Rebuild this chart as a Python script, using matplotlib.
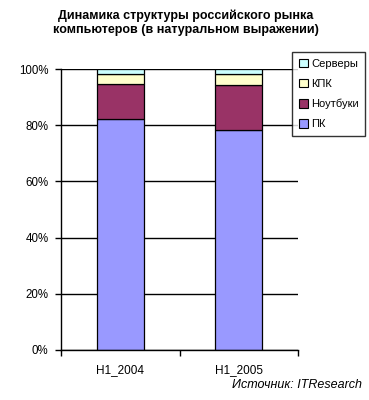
import matplotlib
matplotlib.use("Agg")
import matplotlib.pyplot as plt
from matplotlib.patches import Patch
from matplotlib.ticker import FixedLocator

plt.rcParams['font.family'] = ['Liberation Sans', 'DejaVu Sans']

categories = ["H1_2004", "H1_2005"]
series_names = ["ПК", "Ноутбуки", "КПК", "Серверы"]
pc = [82.1, 78.2]
notebooks = [12.5, 16.0]
pda = [3.6, 4.1]
servers = [1.8, 1.7]
ytick_labels = ["0%", "20%", "40%", "60%", "80%", "100%"]
title = "Динамика структуры российского рынка\nкомпьютеров (в натуральном выражении)"
source = "Источник: ITResearch"

colors = ["#9999FF", "#993366", "#FFFFCC", "#CCFFFF"]

fig = plt.figure(figsize=(3.69, 4.0), dpi=100)
ax = fig.add_axes([61/369, 50/400, (298-61)/369, (350-69)/400])

x = list(range(len(categories)))
bottom = [0.0] * len(categories)
for vals, col, name in zip([pc, notebooks, pda, servers], colors, series_names):
    ax.bar(x, vals, width=0.4, bottom=bottom, color=col, edgecolor="black",
           linewidth=0.9, label=name, zorder=3)
    bottom = [b + v for b, v in zip(bottom, vals)]

ax.set_xlim(-0.5, len(categories) - 0.5)
ax.set_ylim(0, 100)
ax.set_yticks([0, 20, 40, 60, 80, 100])
ax.set_yticklabels(ytick_labels, fontsize=8.3)
ax.set_xticks(x)
ax.set_xticklabels(categories, fontsize=8.5)
ax.tick_params(axis='x', length=0, pad=10)
ax.xaxis.set_minor_locator(FixedLocator([-0.5, 0.5, 1.5]))
ax.tick_params(axis='x', which='minor', length=4, width=1, color='black', direction='out')
ax.tick_params(axis='y', length=4, width=1, direction='out', pad=5)
ax.yaxis.grid(True, color='black', linewidth=1, zorder=0)
ax.set_axisbelow(True)
for s in ['top', 'right']:
    ax.spines[s].set_visible(False)
for s in ['left', 'bottom']:
    ax.spines[s].set_linewidth(1)
    ax.spines[s].set_zorder(4)

handles = [Patch(facecolor=c, edgecolor='black', linewidth=0.8) for c in colors][::-1]
labels = series_names[::-1]
leg = fig.legend(handles, labels, loc='upper left',
                 bbox_to_anchor=(292/369, 1 - 52/400), fontsize=8,
                 frameon=True, fancybox=False, borderpad=0.6,
                 handlelength=0.8, handleheight=0.8, handletextpad=0.3,
                 labelspacing=0.9, borderaxespad=0)
leg.get_frame().set_edgecolor('black')
leg.get_frame().set_linewidth(1)

fig.text(186/369, 1 - 9/400, title, ha='center', va='top', fontsize=9,
         fontweight='bold', linespacing=1.25)
fig.text(362/369, 1 - 385/400, source, ha='right', va='center', fontsize=9,
         style='italic')

fig.savefig("out.png", dpi=100)
